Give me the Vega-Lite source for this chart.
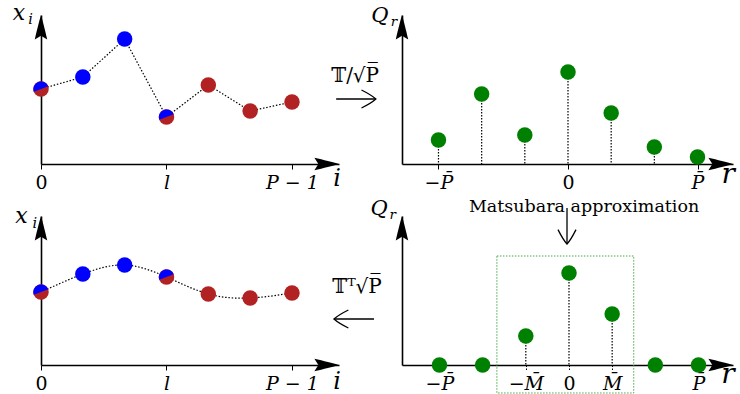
{
 "$schema": "https://vega.github.io/schema/vega-lite/v6.json",
 "padding": 0,
 "autosize": {"type": "pad"},
 "background": "white",
 "columns": 2,
 "spacing": {"row": 52, "column": 63},
 "bounds": "flush",
 "align": "each",
 "datasets": {
  "top_x": [
   {"i": 0, "x": 75, "group": "both"},
   {"i": 1, "x": 87, "group": "blue"},
   {"i": 2, "x": 125, "group": "blue"},
   {"i": 3, "x": 47, "group": "both"},
   {"i": 4, "x": 79, "group": "red"},
   {"i": 5, "x": 53, "group": "red"},
   {"i": 6, "x": 62, "group": "red"}
  ],
  "bot_x": [
   {"i": 0, "x": 73, "group": "both"},
   {"i": 1, "x": 91, "group": "blue"},
   {"i": 2, "x": 100, "group": "blue"},
   {"i": 3, "x": 88, "group": "both"},
   {"i": 4, "x": 71, "group": "red"},
   {"i": 5, "x": 67, "group": "red"},
   {"i": 6, "x": 72, "group": "red"}
  ],
  "top_q": [
   {"r": -3, "q": 24}, {"r": -2, "q": 70}, {"r": -1, "q": 29}, {"r": 0, "q": 92},
   {"r": 1, "q": 51}, {"r": 2, "q": 17}, {"r": 3, "q": 7}
  ],
  "bot_q": [
   {"r": -3, "q": 0}, {"r": -2, "q": 0}, {"r": -1, "q": 29}, {"r": 0, "q": 92},
   {"r": 1, "q": 51}, {"r": 2, "q": 0}, {"r": 3, "q": 0}
  ]
 },
 "config": {
  "view": {"stroke": null},
  "axis": {"domainColor": "black", "domainWidth": 1.6, "tickColor": "black", "tickWidth": 1, "tickSize": 5,
   "labelFont": "DejaVu Serif", "labelFontSize": 19, "labelColor": "black", "labelBaseline": "alphabetic",
   "labelPadding": 19, "labelFlush": false, "labelOverlap": false, "labelBound": false, "grid": false, "title": null},
  "axisY": {"ticks": false, "labels": false}
 },
 "concat": [
  {
   "width": 298, "height": 149,
   "layer": [
    {"data": {"name": "top_x"},
     "mark": {"type": "line", "color": "black", "strokeWidth": 1.2, "strokeDash": [1.5, 1.8]},
     "encoding": {
      "x": {"field": "i", "type": "quantitative", "scale": {"domain": [0, 7.124], "nice": false, "zero": false},
       "axis": {"values": [0, 3, 6], "title": null, "labelExpr": "datum.value == 0 ? '0' : datum.value == 3 ? 'l' : 'P − 1'",
        "labelFontStyle": {"condition": {"test": "datum.value == 0", "value": "normal"}, "value": "italic"}}},
      "y": {"field": "x", "type": "quantitative", "scale": {"domain": [0, 149], "nice": false, "zero": false}, "axis": {"title": null}}
     }},
    {"data": {"name": "top_x"},
     "mark": {"type": "point", "shape": "circle", "filled": true, "size": 240, "opacity": 1, "strokeWidth": 0},
     "encoding": {
      "x": {"field": "i", "type": "quantitative"},
      "y": {"field": "x", "type": "quantitative"},
      "color": {"condition": {"test": "datum.group === 'blue'", "value": "#0000ff"}, "value": "#b22222"}
     }},
    {"data": {"name": "top_x"}, "transform": [{"filter": "datum.group === 'both'"}],
     "mark": {"type": "point", "shape": "M-0.94,0.34 A1,1 0 0 1 0.94,-0.34 Z", "filled": true, "size": 240, "opacity": 1, "strokeWidth": 0, "color": "#0000ff"},
     "encoding": {
      "x": {"field": "i", "type": "quantitative"},
      "y": {"field": "x", "type": "quantitative"}
     }},
    {"data": {"values": [{}]},
     "mark": {"type": "point", "shape": "M0,0 C0.15,0.5 0.35,1.3 0.52,2.05 L0,1.72 L-0.52,2.05 C-0.35,1.3 -0.15,0.5 0,0 Z", "filled": true, "size": 576, "opacity": 1, "color": "black", "strokeWidth": 0},
     "encoding": {"x": {"datum": 0, "type": "quantitative"}, "y": {"datum": 149, "type": "quantitative"}}},
    {"data": {"values": [{}]},
     "mark": {"type": "point", "shape": "M0,0 C-0.5,0.15 -1.3,0.35 -2.05,0.52 L-1.72,0 L-2.05,-0.52 C-1.3,-0.35 -0.5,-0.15 0,0 Z", "filled": true, "size": 576, "opacity": 1, "color": "black", "strokeWidth": 0},
     "encoding": {"x": {"datum": 7.124, "type": "quantitative"}, "y": {"datum": 0, "type": "quantitative"}}},
    {"data": {"values": [{"t": "x"}]},
     "mark": {"type": "text", "font": "DejaVu Serif", "fontStyle": "italic", "fontSize": 22, "align": "center", "baseline": "alphabetic", "color": "black"},
     "encoding": {"x": {"datum": -0.53, "type": "quantitative"}, "y": {"datum": 144, "type": "quantitative"}, "text": {"field": "t"}}},
    {"data": {"values": [{"t": "i"}]},
     "mark": {"type": "text", "font": "DejaVu Serif", "fontStyle": "italic", "fontSize": 14.5, "align": "center", "baseline": "alphabetic", "color": "black"},
     "encoding": {"x": {"datum": -0.25, "type": "quantitative"}, "y": {"datum": 140, "type": "quantitative"}, "text": {"field": "t"}}},
    {"data": {"values": [{"t": "i"}]},
     "mark": {"type": "text", "font": "DejaVu Serif", "fontStyle": "italic", "fontSize": 24, "align": "center", "baseline": "alphabetic", "color": "black"},
     "encoding": {"x": {"datum": 7.08, "type": "quantitative"}, "y": {"datum": -22, "type": "quantitative"}, "text": {"field": "t"}}},
    {"data": {"values": [{}]},
     "mark": {"type": "rule", "strokeOpacity": 0},
     "encoding": {"x": {"datum": -0.9563, "type": "quantitative"}, "y": {"datum": 163, "type": "quantitative"}, "y2": {"datum": 162}}}
   ]
  },
  {
   "width": 331, "height": 149,
   "layer": [
    {"data": {"name": "top_q"},
     "mark": {"type": "rule", "color": "black", "strokeWidth": 1.2, "strokeDash": [1.5, 1.5]},
     "encoding": {
      "x": {"field": "r", "type": "quantitative", "scale": {"domain": [-3.845, 3.822], "nice": false, "zero": false},
       "axis": {"values": [-3, 0, 3], "title": null, "labelExpr": "datum.value == 0 ? '0' : datum.value < 0 ? '−P̄' : 'P̄'",
        "labelFontStyle": {"condition": {"test": "datum.value == 0", "value": "normal"}, "value": "italic"}}},
      "y": {"field": "q", "type": "quantitative", "scale": {"domain": [0, 149], "nice": false, "zero": false}, "axis": {"title": null}},
      "y2": {"datum": 0}
     }},
    {"data": {"name": "top_q"},
     "mark": {"type": "point", "shape": "circle", "filled": true, "size": 240, "opacity": 1, "strokeWidth": 0, "color": "#008000"},
     "encoding": {"x": {"field": "r", "type": "quantitative"}, "y": {"field": "q", "type": "quantitative"}}},
    {"data": {"values": [{}]},
     "mark": {"type": "point", "shape": "M0,0 C0.15,0.5 0.35,1.3 0.52,2.05 L0,1.72 L-0.52,2.05 C-0.35,1.3 -0.15,0.5 0,0 Z", "filled": true, "size": 576, "opacity": 1, "color": "black", "strokeWidth": 0},
     "encoding": {"x": {"datum": -3.845, "type": "quantitative"}, "y": {"datum": 149, "type": "quantitative"}}},
    {"data": {"values": [{}]},
     "mark": {"type": "point", "shape": "M0,0 C-0.5,0.15 -1.3,0.35 -2.05,0.52 L-1.72,0 L-2.05,-0.52 C-1.3,-0.35 -0.5,-0.15 0,0 Z", "filled": true, "size": 576, "opacity": 1, "color": "black", "strokeWidth": 0},
     "encoding": {"x": {"datum": 3.822, "type": "quantitative"}, "y": {"datum": 0, "type": "quantitative"}}},
    {"data": {"values": [{"t": "Q"}]},
     "mark": {"type": "text", "font": "DejaVu Serif", "fontStyle": "italic", "fontSize": 21, "align": "center", "baseline": "alphabetic", "color": "black"},
     "encoding": {"x": {"datum": -4.355, "type": "quantitative"}, "y": {"datum": 142, "type": "quantitative"}, "text": {"field": "t"}}},
    {"data": {"values": [{"t": "r"}]},
     "mark": {"type": "text", "font": "DejaVu Serif", "fontStyle": "italic", "fontSize": 13.5, "align": "center", "baseline": "alphabetic", "color": "black"},
     "encoding": {"x": {"datum": -4.03, "type": "quantitative"}, "y": {"datum": 138, "type": "quantitative"}, "text": {"field": "t"}}},
    {"data": {"values": [{"t": "r"}]},
     "mark": {"type": "text", "font": "DejaVu Serif", "fontStyle": "italic", "fontSize": 28, "align": "center", "baseline": "alphabetic", "color": "black"},
     "encoding": {"x": {"datum": 3.71, "type": "quantitative"}, "y": {"datum": -19, "type": "quantitative"}, "text": {"field": "t"}}},
    {"data": {"values": [{"t": "𝕋/√P̅"}]},
     "mark": {"type": "text", "font": "DejaVu Serif", "fontSize": 20, "align": "center", "baseline": "alphabetic", "color": "black"},
     "encoding": {"x": {"datum": -4.93, "type": "quantitative"}, "y": {"datum": 82, "type": "quantitative"}, "text": {"field": "t"}}},
    {"data": {"values": [{}]},
     "mark": {"type": "rule", "color": "black", "strokeWidth": 1.3},
     "encoding": {"x": {"datum": -5.37, "type": "quantitative"}, "x2": {"datum": -4.45}, "y": {"datum": 65, "type": "quantitative"}}},
    {"data": {"values": [{}]},
     "mark": {"type": "point", "shape": "M-1.6,-1 Q-0.5,-0.45 0,0 Q-0.5,0.45 -1.6,1", "filled": false, "size": 324, "opacity": 1, "color": "black", "strokeWidth": 1.3, "angle": 0},
     "encoding": {"x": {"datum": -4.45, "type": "quantitative"}, "y": {"datum": 65, "type": "quantitative"}}}
   ]
  },
  {
   "width": 298, "height": 149,
   "layer": [
    {"data": {"name": "bot_x"},
     "mark": {"type": "line", "color": "black", "strokeWidth": 1.2, "strokeDash": [1.5, 1.8], "interpolate": "natural"},
     "encoding": {
      "x": {"field": "i", "type": "quantitative", "scale": {"domain": [0, 7.124], "nice": false, "zero": false},
       "axis": {"values": [0, 3, 6], "title": null, "labelExpr": "datum.value == 0 ? '0' : datum.value == 3 ? 'l' : 'P − 1'",
        "labelFontStyle": {"condition": {"test": "datum.value == 0", "value": "normal"}, "value": "italic"}}},
      "y": {"field": "x", "type": "quantitative", "scale": {"domain": [0, 149], "nice": false, "zero": false}, "axis": {"title": null}}
     }},
    {"data": {"name": "bot_x"},
     "mark": {"type": "point", "shape": "circle", "filled": true, "size": 240, "opacity": 1, "strokeWidth": 0},
     "encoding": {
      "x": {"field": "i", "type": "quantitative"},
      "y": {"field": "x", "type": "quantitative"},
      "color": {"condition": {"test": "datum.group === 'blue'", "value": "#0000ff"}, "value": "#b22222"}
     }},
    {"data": {"name": "bot_x"}, "transform": [{"filter": "datum.group === 'both'"}],
     "mark": {"type": "point", "shape": "M-0.94,0.34 A1,1 0 0 1 0.94,-0.34 Z", "filled": true, "size": 240, "opacity": 1, "strokeWidth": 0, "color": "#0000ff"},
     "encoding": {
      "x": {"field": "i", "type": "quantitative"},
      "y": {"field": "x", "type": "quantitative"}
     }},
    {"data": {"values": [{}]},
     "mark": {"type": "point", "shape": "M0,0 C0.15,0.5 0.35,1.3 0.52,2.05 L0,1.72 L-0.52,2.05 C-0.35,1.3 -0.15,0.5 0,0 Z", "filled": true, "size": 576, "opacity": 1, "color": "black", "strokeWidth": 0},
     "encoding": {"x": {"datum": 0, "type": "quantitative"}, "y": {"datum": 149, "type": "quantitative"}}},
    {"data": {"values": [{}]},
     "mark": {"type": "point", "shape": "M0,0 C-0.5,0.15 -1.3,0.35 -2.05,0.52 L-1.72,0 L-2.05,-0.52 C-1.3,-0.35 -0.5,-0.15 0,0 Z", "filled": true, "size": 576, "opacity": 1, "color": "black", "strokeWidth": 0},
     "encoding": {"x": {"datum": 7.124, "type": "quantitative"}, "y": {"datum": 0, "type": "quantitative"}}},
    {"data": {"values": [{"t": "x"}]},
     "mark": {"type": "text", "font": "DejaVu Serif", "fontStyle": "italic", "fontSize": 22, "align": "center", "baseline": "alphabetic", "color": "black"},
     "encoding": {"x": {"datum": -0.47, "type": "quantitative"}, "y": {"datum": 142, "type": "quantitative"}, "text": {"field": "t"}}},
    {"data": {"values": [{"t": "i"}]},
     "mark": {"type": "text", "font": "DejaVu Serif", "fontStyle": "italic", "fontSize": 14.5, "align": "center", "baseline": "alphabetic", "color": "black"},
     "encoding": {"x": {"datum": -0.15, "type": "quantitative"}, "y": {"datum": 137, "type": "quantitative"}, "text": {"field": "t"}}},
    {"data": {"values": [{"t": "i"}]},
     "mark": {"type": "text", "font": "DejaVu Serif", "fontStyle": "italic", "fontSize": 24, "align": "center", "baseline": "alphabetic", "color": "black"},
     "encoding": {"x": {"datum": 7.08, "type": "quantitative"}, "y": {"datum": -24, "type": "quantitative"}, "text": {"field": "t"}}}
   ]
  },
  {
   "width": 331, "height": 149,
   "layer": [
    {"data": {"name": "bot_q"}, "transform": [{"filter": "datum.q > 0"}],
     "mark": {"type": "rule", "color": "black", "strokeWidth": 1.2, "strokeDash": [1.5, 1.5]},
     "encoding": {
      "x": {"field": "r", "type": "quantitative", "scale": {"domain": [-3.868, 3.799], "nice": false, "zero": false},
       "axis": {"values": [-3, -1, 0, 1, 3], "title": null, "tickDash": [1.5, 1.5],
        "labelExpr": "datum.value == 0 ? '0' : datum.value == -3 ? '−P̄' : datum.value == 3 ? 'P̄' : datum.value == -1 ? '−M̄' : 'M̄'",
        "labelFontStyle": {"condition": {"test": "datum.value == 0", "value": "normal"}, "value": "italic"}}},
      "y": {"field": "q", "type": "quantitative", "scale": {"domain": [0, 149], "nice": false, "zero": false}, "axis": {"title": null}},
      "y2": {"datum": 0}
     }},
    {"data": {"values": [{}]},
     "mark": {"type": "rect", "filled": false, "color": "#44aa44", "strokeWidth": 1, "strokeDash": [1.5, 1.5]},
     "encoding": {"x": {"datum": -1.67, "type": "quantitative"}, "x2": {"datum": 1.5}, "y": {"datum": 109, "type": "quantitative"}, "y2": {"datum": -28}}},
    {"data": {"name": "bot_q"},
     "mark": {"type": "point", "shape": "circle", "filled": true, "size": 240, "opacity": 1, "strokeWidth": 0, "color": "#008000"},
     "encoding": {"x": {"field": "r", "type": "quantitative"}, "y": {"field": "q", "type": "quantitative"}}},
    {"data": {"values": [{}]},
     "mark": {"type": "point", "shape": "M0,0 C0.15,0.5 0.35,1.3 0.52,2.05 L0,1.72 L-0.52,2.05 C-0.35,1.3 -0.15,0.5 0,0 Z", "filled": true, "size": 576, "opacity": 1, "color": "black", "strokeWidth": 0},
     "encoding": {"x": {"datum": -3.868, "type": "quantitative"}, "y": {"datum": 149, "type": "quantitative"}}},
    {"data": {"values": [{}]},
     "mark": {"type": "point", "shape": "M0,0 C-0.5,0.15 -1.3,0.35 -2.05,0.52 L-1.72,0 L-2.05,-0.52 C-1.3,-0.35 -0.5,-0.15 0,0 Z", "filled": true, "size": 576, "opacity": 1, "color": "black", "strokeWidth": 0},
     "encoding": {"x": {"datum": 3.799, "type": "quantitative"}, "y": {"datum": 0, "type": "quantitative"}}},
    {"data": {"values": [{"t": "Q"}]},
     "mark": {"type": "text", "font": "DejaVu Serif", "fontStyle": "italic", "fontSize": 21, "align": "center", "baseline": "alphabetic", "color": "black"},
     "encoding": {"x": {"datum": -4.40, "type": "quantitative"}, "y": {"datum": 150, "type": "quantitative"}, "text": {"field": "t"}}},
    {"data": {"values": [{"t": "r"}]},
     "mark": {"type": "text", "font": "DejaVu Serif", "fontStyle": "italic", "fontSize": 13.5, "align": "center", "baseline": "alphabetic", "color": "black"},
     "encoding": {"x": {"datum": -4.08, "type": "quantitative"}, "y": {"datum": 146, "type": "quantitative"}, "text": {"field": "t"}}},
    {"data": {"values": [{"t": "r"}]},
     "mark": {"type": "text", "font": "DejaVu Serif", "fontStyle": "italic", "fontSize": 28, "align": "center", "baseline": "alphabetic", "color": "black"},
     "encoding": {"x": {"datum": 3.68, "type": "quantitative"}, "y": {"datum": -18, "type": "quantitative"}, "text": {"field": "t"}}},
    {"data": {"values": [{"t": "𝕋ᵀ√P̅"}]},
     "mark": {"type": "text", "font": "DejaVu Serif", "fontSize": 20, "align": "center", "baseline": "alphabetic", "color": "black"},
     "encoding": {"x": {"datum": -4.91, "type": "quantitative"}, "y": {"datum": 72, "type": "quantitative"}, "text": {"field": "t"}}},
    {"data": {"values": [{}]},
     "mark": {"type": "rule", "color": "black", "strokeWidth": 1.3},
     "encoding": {"x": {"datum": -5.444, "type": "quantitative"}, "x2": {"datum": -4.517}, "y": {"datum": 46, "type": "quantitative"}}},
    {"data": {"values": [{}]},
     "mark": {"type": "point", "shape": "M-1.6,-1 Q-0.5,-0.45 0,0 Q-0.5,0.45 -1.6,1", "filled": false, "size": 324, "opacity": 1, "color": "black", "strokeWidth": 1.3, "angle": 180},
     "encoding": {"x": {"datum": -5.444, "type": "quantitative"}, "y": {"datum": 46, "type": "quantitative"}}},
    {"data": {"values": [{"t": "Matsubara approximation"}]},
     "mark": {"type": "text", "font": "DejaVu Serif", "fontSize": 17.5, "align": "center", "baseline": "alphabetic", "color": "black"},
     "encoding": {"x": {"datum": 0.35, "type": "quantitative"}, "y": {"datum": 153, "type": "quantitative"}, "text": {"field": "t"}}},
    {"data": {"values": [{}]},
     "mark": {"type": "rule", "color": "black", "strokeWidth": 1.3},
     "encoding": {"x": {"datum": -0.046, "type": "quantitative"}, "y": {"datum": 157, "type": "quantitative"}, "y2": {"datum": 121}}},
    {"data": {"values": [{}]},
     "mark": {"type": "point", "shape": "M-1.6,-1 Q-0.5,-0.45 0,0 Q-0.5,0.45 -1.6,1", "filled": false, "size": 324, "opacity": 1, "color": "black", "strokeWidth": 1.3, "angle": 90},
     "encoding": {"x": {"datum": -0.046, "type": "quantitative"}, "y": {"datum": 121, "type": "quantitative"}}},
    {"data": {"values": [{}]},
     "mark": {"type": "rule", "strokeOpacity": 0},
     "encoding": {"x": {"datum": 3.984, "type": "quantitative"}, "y": {"datum": -30, "type": "quantitative"}, "y2": {"datum": -29}}}
   ]
  }
 ]
}
